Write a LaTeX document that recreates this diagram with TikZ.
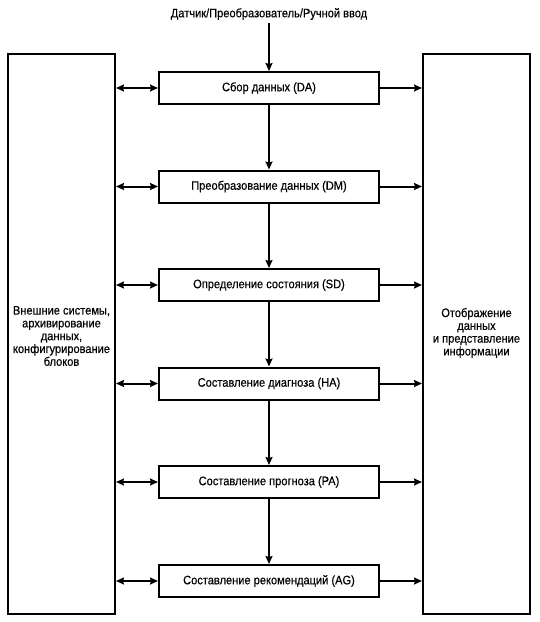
\documentclass[tikz,border=0pt]{standalone}
\usepackage{fontspec}
\setmainfont{Liberation Sans}[FakeStretch=0.9,FakeBold=0.4]
\usetikzlibrary{arrows.meta}
\begin{document}
\begin{tikzpicture}[x=1pt,y=-1pt,
  every node/.style={font=\fontsize{12.3}{12.8}\selectfont},
  stage/.style={draw,line width=2pt,minimum width=220pt,minimum height=32pt,inner sep=0pt},
  side/.style={draw,line width=2pt,minimum width=107pt,minimum height=560pt,inner sep=0pt},
  conn/.style={line width=2pt,-{Stealth[length=8pt,width=7pt,inset=1pt]}},
  bconn/.style={line width=2pt,{Stealth[length=8pt,width=7pt,inset=1pt]}-{Stealth[length=8pt,width=7pt,inset=1pt]}}]
\useasboundingbox (0,0) rectangle (540,622);
\node[side] (L) at (61.5,334) {};
\node[side] (R) at (476.5,334) {};
\node[align=center] (Ltxt) at (61.5,336) {Внешние системы,\\архивирование\\данных,\\конфигурирование\\блоков};
\node[align=center] (Rtxt) at (476.5,333) {Отображение\\данных\\и представление\\информации};
\node (src) at (269,14) {Датчик/Преобразователь/Ручной ввод};
\node[stage] (DA) at (269,88) {Сбор данных (DA)};
\node[stage] (DM) at (269,186.5) {Преобразование данных (DM)};
\node[stage] (SD) at (269,285) {Определение состояния (SD)};
\node[stage] (HA) at (269,383.5) {Составление диагноза (HA)};
\node[stage] (PA) at (269,482) {Составление прогноза (PA)};
\node[stage] (AG) at (269,581) {Составление рекомендаций (AG)};
\draw[conn] (src.south) -- (DA.north);
\foreach \a/\b in {DA/DM,DM/SD,SD/HA,HA/PA,PA/AG}{\draw[conn] (\a.south) -- (\b.north);}
\foreach \s in {DA,DM,SD,HA,PA,AG}{
  \draw[bconn] (L.east |- \s.west) -- (\s.west);
  \draw[conn] (\s.east) -- (R.west |- \s.east);
}
\end{tikzpicture}
\end{document}
